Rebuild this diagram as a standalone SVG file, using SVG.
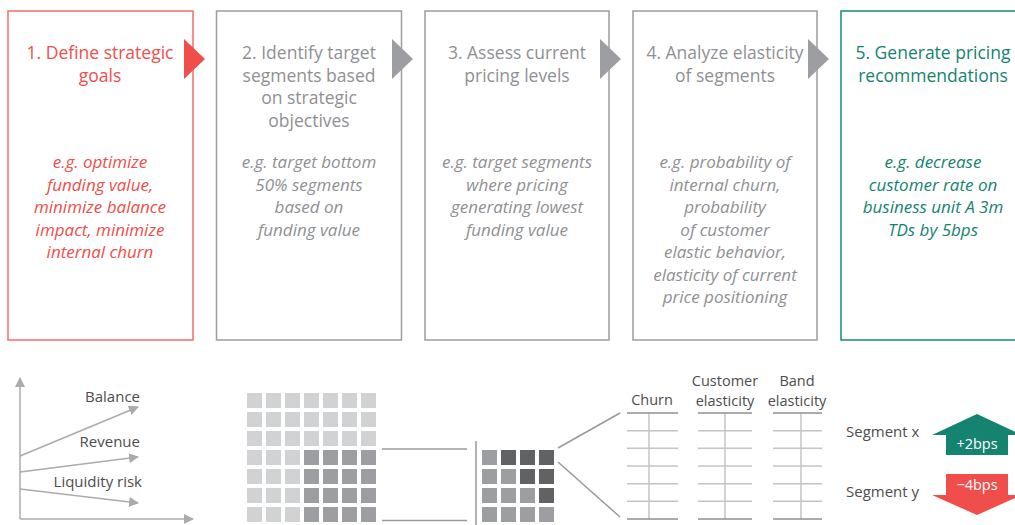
<svg xmlns="http://www.w3.org/2000/svg" width="1015" height="525" viewBox="0 0 1015 525">
<style>
.t{font-family:"Open Sans",Lato,sans-serif;font-size:17.5px;text-anchor:middle}
.d{font-family:"Open Sans",Lato,sans-serif;font-size:17px;font-style:italic;text-anchor:middle}
.l{font-family:"Open Sans",Lato,sans-serif;font-size:15px;fill:#4d4d4d}
.h{font-family:"Open Sans",Lato,sans-serif;font-size:14.5px;fill:#4d4d4d;text-anchor:middle}
.b{font-family:"Open Sans",Lato,sans-serif;font-size:14.5px;fill:#fff;text-anchor:middle}
.red{fill:#f04e4a}.gry{fill:#8f9094}.grn{fill:#148370}
.box{fill:#fff;stroke-width:1.5}
.ax{stroke:#ababab;stroke-width:1.5;fill:none}
.ln{stroke:#9a9a9a;stroke-width:1.5;fill:none}
.tl{stroke:#c4c4c4;stroke-width:1.5}
.tk{stroke:#8f8f8f;stroke-width:1.5}
.lt{fill:#d1d2d4}.md{fill:#9d9ea1}.dk{fill:#616264}
</style>
<defs>
<marker id="ah" viewBox="0 0 10 10" refX="9" refY="5" markerWidth="10" markerHeight="10" markerUnits="userSpaceOnUse" orient="auto"><path d="M0,0 L10,5 L0,10 z" fill="#ababab"/></marker>
</defs>
<g id="step1">
<rect class="box" x="8" y="11" width="185" height="329" stroke="#f36d6a"/>
<text class="t red" x="100" y="59">1. Define strategic</text>
<text class="t red" x="100" y="81.5">goals</text>
<text class="d red" x="100" y="168">e.g. optimize</text>
<text class="d red" x="100" y="190.5">funding value,</text>
<text class="d red" x="100" y="213">minimize balance</text>
<text class="d red" x="100" y="235.5">impact, minimize</text>
<text class="d red" x="100" y="258">internal churn</text>
</g>
<g id="step2">
<rect class="box" x="216.5" y="11" width="185" height="329" stroke="#9d9d9d"/>
<text class="t gry" x="309" y="59">2. Identify target</text>
<text class="t gry" x="309" y="81.5">segments based</text>
<text class="t gry" x="309" y="104">on strategic</text>
<text class="t gry" x="309" y="126.5">objectives</text>
<text class="d gry" x="309" y="168">e.g. target bottom</text>
<text class="d gry" x="309" y="190.5">50% segments</text>
<text class="d gry" x="309" y="213">based on</text>
<text class="d gry" x="309" y="235.5">funding value</text>
</g>
<g id="step3">
<rect class="box" x="425" y="11" width="184" height="329" stroke="#9d9d9d"/>
<text class="t gry" x="517" y="59">3. Assess current</text>
<text class="t gry" x="517" y="81.5">pricing levels</text>
<text class="d gry" x="517" y="168">e.g. target segments</text>
<text class="d gry" x="517" y="190.5">where pricing</text>
<text class="d gry" x="517" y="213">generating lowest</text>
<text class="d gry" x="517" y="235.5">funding value</text>
</g>
<g id="step4">
<rect class="box" x="633" y="11" width="184" height="329" stroke="#9d9d9d"/>
<text class="t gry" x="725" y="59">4. Analyze elasticity</text>
<text class="t gry" x="725" y="81.5">of segments</text>
<text class="d gry" x="725" y="168">e.g. probability of</text>
<text class="d gry" x="725" y="190.5">internal churn,</text>
<text class="d gry" x="725" y="213">probability</text>
<text class="d gry" x="725" y="235.5">of customer</text>
<text class="d gry" x="725" y="258">elastic behavior,</text>
<text class="d gry" x="725" y="280.5">elasticity of current</text>
<text class="d gry" x="725" y="303">price positioning</text>
</g>
<g id="step5">
<rect class="box" x="841" y="11" width="185" height="329" stroke="#148a76"/>
<text class="t grn" x="933" y="59">5. Generate pricing</text>
<text class="t grn" x="933" y="81.5">recommendations</text>
<text class="d grn" x="933" y="168">e.g. decrease</text>
<text class="d grn" x="933" y="190.5">customer rate on</text>
<text class="d grn" x="933" y="213">business unit A 3m</text>
<text class="d grn" x="933" y="235.5">TDs by 5bps</text>
</g>
<g id="connectors">
<path d="M184,39 L205,59 L184,79 z" fill="#f04e4a"/>
<path d="M392,39 L413,59 L392,79 z" fill="#9d9ea1"/>
<path d="M600,39 L621,59 L600,79 z" fill="#9d9ea1"/>
<path d="M808,39 L829,59 L808,79 z" fill="#9d9ea1"/>
<line class="ln" x1="382" y1="449" x2="467" y2="449"/>
<line class="ln" x1="382" y1="520.5" x2="467" y2="520.5"/>
<line class="ln" x1="558" y1="448" x2="620" y2="413"/>
<line class="ln" x1="558" y1="462" x2="620" y2="517"/>
</g>
<g id="chart">
<line class="ax" x1="20" y1="519" x2="20" y2="378" marker-end="url(#ah)"/>
<line class="ax" x1="20" y1="519" x2="193" y2="519" marker-end="url(#ah)"/>
<line class="ax" x1="20" y1="456" x2="138" y2="407" marker-end="url(#ah)"/>
<line class="ax" x1="20" y1="472" x2="138" y2="457" marker-end="url(#ah)"/>
<line class="ax" x1="20" y1="489" x2="138" y2="503" marker-end="url(#ah)"/>
<text class="l" x="140" y="402" text-anchor="end">Balance</text>
<text class="l" x="140" y="447" text-anchor="end">Revenue</text>
<text class="l" x="142" y="487" text-anchor="end">Liquidity risk</text>
</g>
<g id="segment-grid">
<g class="lt">
<rect x="247" y="393" width="15" height="15"/><rect x="266" y="393" width="15" height="15"/><rect x="285" y="393" width="15" height="15"/><rect x="304" y="393" width="15" height="15"/><rect x="323" y="393" width="15" height="15"/><rect x="342" y="393" width="15" height="15"/><rect x="361" y="393" width="15" height="15"/>
<rect x="247" y="412" width="15" height="15"/><rect x="266" y="412" width="15" height="15"/><rect x="285" y="412" width="15" height="15"/><rect x="304" y="412" width="15" height="15"/><rect x="323" y="412" width="15" height="15"/><rect x="342" y="412" width="15" height="15"/><rect x="361" y="412" width="15" height="15"/>
<rect x="247" y="431" width="15" height="15"/><rect x="266" y="431" width="15" height="15"/><rect x="285" y="431" width="15" height="15"/><rect x="304" y="431" width="15" height="15"/><rect x="323" y="431" width="15" height="15"/><rect x="342" y="431" width="15" height="15"/><rect x="361" y="431" width="15" height="15"/>
<rect x="247" y="450" width="15" height="15"/><rect x="266" y="450" width="15" height="15"/><rect x="285" y="450" width="15" height="15"/>
<rect x="247" y="469" width="15" height="15"/><rect x="266" y="469" width="15" height="15"/><rect x="285" y="469" width="15" height="15"/>
<rect x="247" y="488" width="15" height="15"/><rect x="266" y="488" width="15" height="15"/><rect x="285" y="488" width="15" height="15"/>
<rect x="247" y="507" width="15" height="15"/><rect x="266" y="507" width="15" height="15"/><rect x="285" y="507" width="15" height="15"/>
</g>
<g class="md">
<rect x="304" y="450" width="15" height="15"/><rect x="323" y="450" width="15" height="15"/><rect x="342" y="450" width="15" height="15"/><rect x="361" y="450" width="15" height="15"/>
<rect x="304" y="469" width="15" height="15"/><rect x="323" y="469" width="15" height="15"/><rect x="342" y="469" width="15" height="15"/><rect x="361" y="469" width="15" height="15"/>
<rect x="304" y="488" width="15" height="15"/><rect x="323" y="488" width="15" height="15"/><rect x="342" y="488" width="15" height="15"/><rect x="361" y="488" width="15" height="15"/>
<rect x="304" y="507" width="15" height="15"/><rect x="323" y="507" width="15" height="15"/><rect x="342" y="507" width="15" height="15"/><rect x="361" y="507" width="15" height="15"/>
</g>
</g>
<g id="zoom-grid">
<line class="ln" x1="476" y1="441" x2="476" y2="525"/>
<rect class="md" x="482" y="450" width="15" height="15"/><rect class="dk" x="501" y="450" width="15" height="15"/><rect class="dk" x="520" y="450" width="15" height="15"/><rect class="dk" x="539" y="450" width="15" height="15"/>
<rect class="md" x="482" y="469" width="15" height="15"/><rect class="md" x="501" y="469" width="15" height="15"/><rect class="dk" x="520" y="469" width="15" height="15"/><rect class="dk" x="539" y="469" width="15" height="15"/>
<rect class="md" x="482" y="488" width="15" height="15"/><rect class="md" x="501" y="488" width="15" height="15"/><rect class="md" x="520" y="488" width="15" height="15"/><rect class="dk" x="539" y="488" width="15" height="15"/>
<rect class="md" x="482" y="507" width="15" height="15"/><rect class="md" x="501" y="507" width="15" height="15"/><rect class="md" x="520" y="507" width="15" height="15"/><rect class="md" x="539" y="507" width="15" height="15"/>
</g>
<g id="tables">
<text class="h" x="652" y="405">Churn</text>
<text class="h" x="725" y="385.5">Customer</text>
<text class="h" x="725" y="405.5">elasticity</text>
<text class="h" x="797" y="385.5">Band</text>
<text class="h" x="797" y="405.5">elasticity</text>
<g id="table-churn">
<line class="tl" x1="649" y1="413" x2="649" y2="519"/>
<line class="tl" x1="627" y1="430.7" x2="678" y2="430.7"/><line class="tl" x1="627" y1="448.3" x2="678" y2="448.3"/><line class="tl" x1="627" y1="466" x2="678" y2="466"/><line class="tl" x1="627" y1="483.7" x2="678" y2="483.7"/><line class="tl" x1="627" y1="501.3" x2="678" y2="501.3"/>
<line class="tk" x1="627" y1="413" x2="678" y2="413"/><line class="tk" x1="627" y1="519" x2="678" y2="519"/>
</g>
<g id="table-customer">
<line class="tl" x1="725" y1="413" x2="725" y2="519"/>
<line class="tl" x1="698" y1="430.7" x2="752" y2="430.7"/><line class="tl" x1="698" y1="448.3" x2="752" y2="448.3"/><line class="tl" x1="698" y1="466" x2="752" y2="466"/><line class="tl" x1="698" y1="483.7" x2="752" y2="483.7"/><line class="tl" x1="698" y1="501.3" x2="752" y2="501.3"/>
<line class="tk" x1="698" y1="413" x2="752" y2="413"/><line class="tk" x1="698" y1="519" x2="752" y2="519"/>
</g>
<g id="table-band">
<line class="tl" x1="801" y1="413" x2="801" y2="519"/>
<line class="tl" x1="773" y1="430.7" x2="822" y2="430.7"/><line class="tl" x1="773" y1="448.3" x2="822" y2="448.3"/><line class="tl" x1="773" y1="466" x2="822" y2="466"/><line class="tl" x1="773" y1="483.7" x2="822" y2="483.7"/><line class="tl" x1="773" y1="501.3" x2="822" y2="501.3"/>
<line class="tk" x1="773" y1="413" x2="822" y2="413"/><line class="tk" x1="773" y1="519" x2="822" y2="519"/>
</g>
</g>
<g id="segment-x">
<text class="l" x="846" y="437">Segment x</text>
<path d="M977,414 L1022,435 L1008,435 L1008,455 L946,455 L946,435 L932,435 z" fill="#148370"/>
<text class="b" x="977" y="449">+2bps</text>
</g>
<g id="segment-y">
<text class="l" x="846" y="497">Segment y</text>
<path d="M946,474 L1008,474 L1008,495 L1022,495 L977,515 L932,495 L946,495 z" fill="#f04e4a"/>
<text class="b" x="977" y="490">−4bps</text>
</g>
</svg>
